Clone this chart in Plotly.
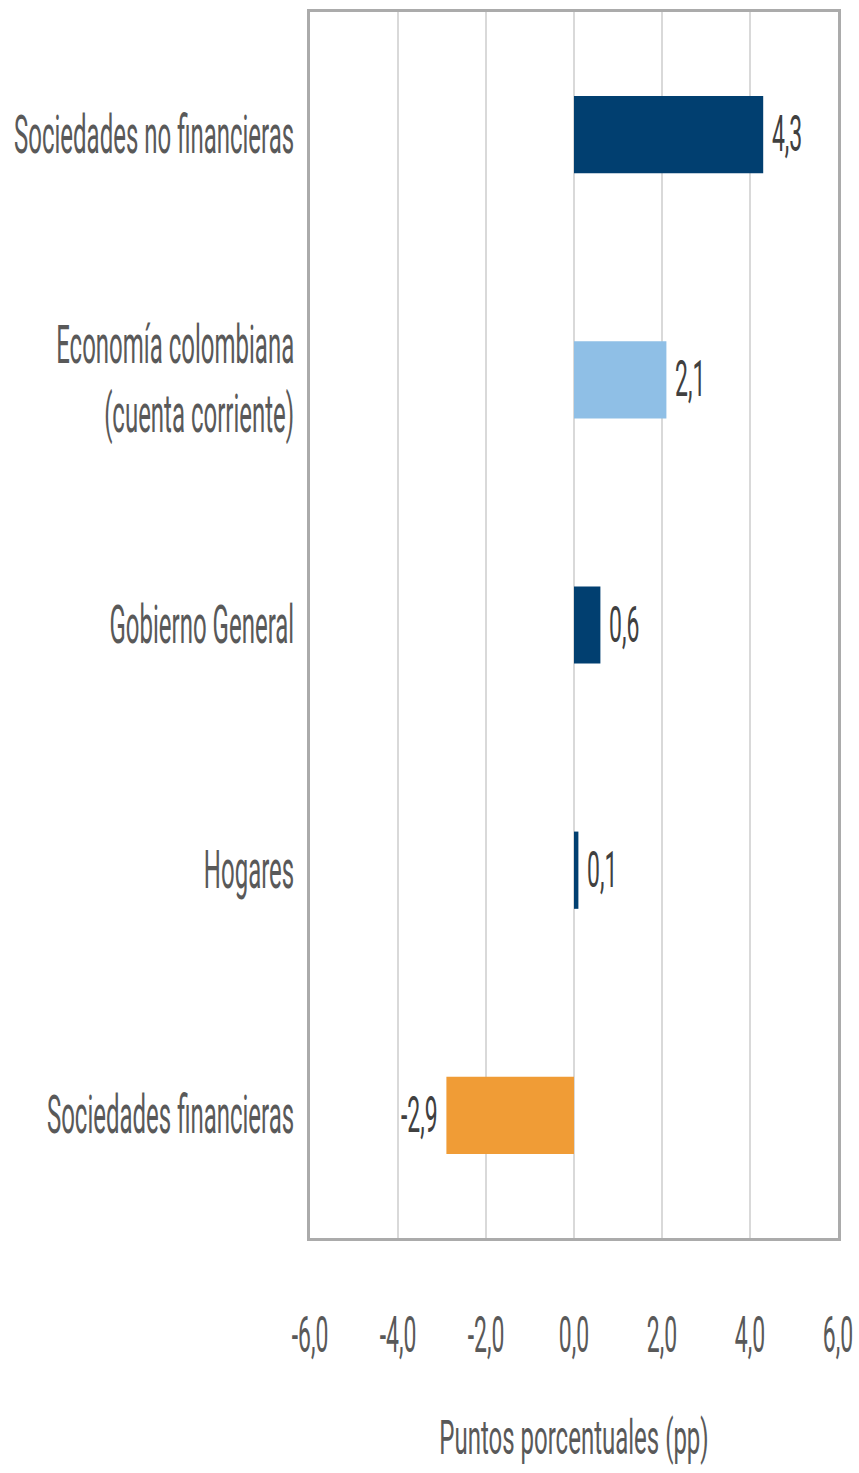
import plotly.graph_objects as go

categories = ["Sociedades no financieras", "Economía colombiana<br>(cuenta corriente)",
              "Gobierno General", "Hogares", "Sociedades financieras"]
values = [4.3, 2.1, 0.6, 0.1, -2.9]
labels = ["\u00a04,3", "\u00a02,1", "\u00a00,6", "\u00a00,1", "-2,9\u00a0"]
colors = ["#013f70", "#8fbfe6", "#013f70", "#013f70", "#f09c36"]
tick_vals = [-6, -4, -2, 0, 2, 4, 6]
tick_text = ["-6,0", "-4,0", "-2,0", "0,0", "2,0", "4,0", "6,0"]

font = "Roboto, 'Liberation Sans', sans-serif"

fig = go.Figure(go.Bar(
    y=categories, x=values, orientation="h",
    marker=dict(color=colors, line=dict(width=0)),
    width=0.315,
    text=labels, textposition="outside", cliponaxis=False,
    textfont=dict(family=font, size=23, color="#404040"),
))

fig.update_layout(
    width=859, height=1473,
    margin=dict(l=310, r=21, t=12, b=235),
    paper_bgcolor="white", plot_bgcolor="white",
    showlegend=False,
    font=dict(family=font),
)
fig.update_xaxes(
    range=[-6, 6], tickvals=tick_vals, ticktext=tick_text,
    showgrid=True, gridcolor="#d9d9d9", gridwidth=1.5,
    showline=True, linecolor="#ababab", linewidth=3, mirror=True,
    zeroline=False, ticks="", ticklabelstandoff=74, automargin=False,
    tickfont=dict(family=font, size=23, color="#595959"),
    title=dict(text="Puntos porcentuales (pp)", standoff=82,
               font=dict(family=font, size=24, color="#595959")),
)
fig.update_yaxes(
    autorange="reversed", showline=True, linecolor="#ababab", linewidth=3, mirror=True,
    ticks="", ticklabelstandoff=8, automargin=False,
    tickfont=dict(family=font, size=24, color="#595959"),
)

# Stretch the (real) SVG text vertically, imitating the tall condensed lettering
post = """
(function(){
  document.body.style.margin = '0';
  var gd = document.getElementById('{plot_id}');
  function stretch(){
    var els = gd.querySelectorAll('.xtick text, .ytick text, text.bartext, text.xtitle');
    els.forEach(function(el){
      var K = el.classList.contains('xtitle') ? 2.0 : 2.2;
      var cur = el.getAttribute('transform') || '';
      if (el.getAttribute('data-sy') === cur && cur !== '') return;
      var bb = el.getBBox();
      var cy = bb.y + bb.height / 2;
      var t = cur + ' translate(0,' + cy + ') scale(1,' + K + ') translate(0,' + (-cy) + ')';
      el.setAttribute('transform', t);
      el.setAttribute('data-sy', t);
    });
  }
  stretch();
  gd.on('plotly_afterplot', stretch);
})();
"""

fig.write_html("out.html", post_script=post, config={"displayModeBar": False})
